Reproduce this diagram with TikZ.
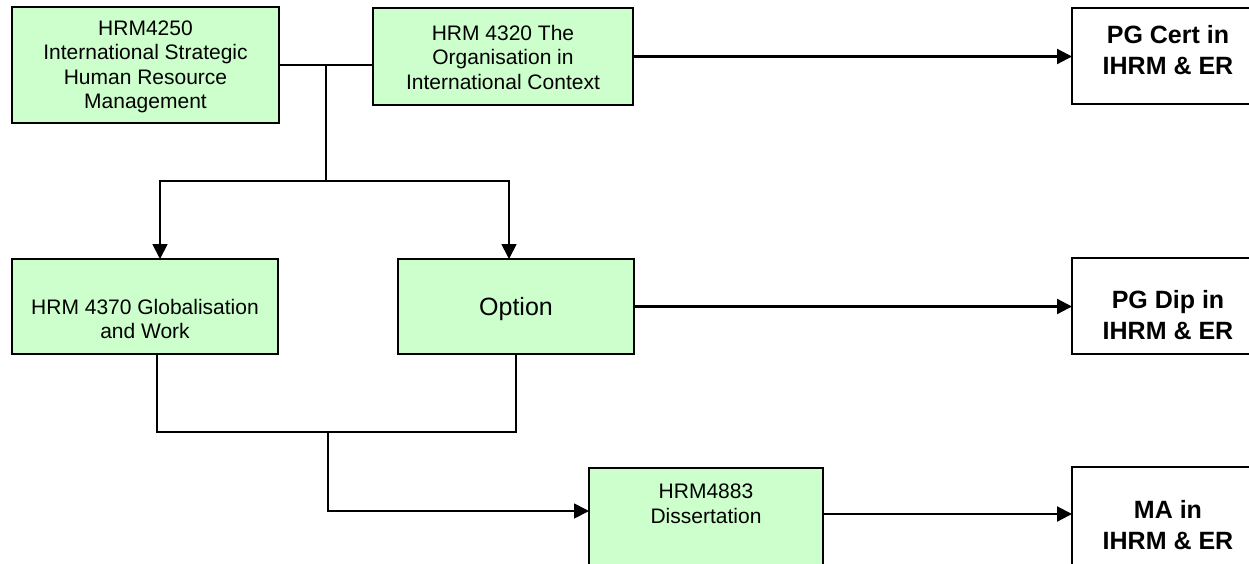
\documentclass[tikz,border=0pt]{standalone}
\usepackage{fontspec}
\setmainfont{Liberation Sans}
\usetikzlibrary{arrows.meta}
\definecolor{grn}{HTML}{CCFFCC}
\begin{document}
\begin{tikzpicture}[x=1pt,y=-1pt,
  box/.style={draw, line width=1.8pt, inner sep=0pt, outer sep=0pt, anchor=north west},
  gbox/.style={box, fill=grn},
  wbox/.style={box, fill=white},
  txt/.style={align=center, inner sep=0pt, font=\fontsize{21}{24.5}\selectfont},
  btxt/.style={align=center, inner sep=0pt, font=\fontsize{25}{30.5}\selectfont\bfseries},
  conn/.style={line width=1.8pt},
  arr/.style={line width=1.8pt, -{Triangle[length=15pt,width=15pt]}},
  arrb/.style={line width=2.2pt, -{Triangle[length=15pt,width=15pt]}},
]
\useasboundingbox (0,0) rectangle (1249,563);
\begin{scope}
\clip (0,0) rectangle (1249,563);
% boxes
\node[gbox, minimum width=267pt, minimum height=116pt] (A) at (12,7) {};
\node[gbox, minimum width=260pt, minimum height=97pt] (B) at (373,8) {};
\node[gbox, minimum width=266pt, minimum height=95pt] (C) at (12,259) {};
\node[gbox, minimum width=236pt, minimum height=95pt] (D) at (398,259) {};
\node[gbox, minimum width=234pt, minimum height=120pt] (E) at (589,468) {};
\node[wbox, minimum width=200pt, minimum height=96pt] (P1) at (1072,8) {};
\node[wbox, minimum width=200pt, minimum height=96pt] (P2) at (1072,258) {};
\node[wbox, minimum width=200pt, minimum height=120pt] (P3) at (1072,467) {};
% texts
\node[txt] (tA) at (145.5,67) {HRM4250\\International Strategic\\Human Resource\\Management};
\node[txt] (tB) at (503,57) {HRM 4320 The\\Organisation in\\International Context};
\node[txt] (tC) at (145,319) {HRM 4370 Globalisation\\and Work};
\node[txt, font=\fontsize{25}{30}\selectfont] (tD) at (516,309) {Option};
\node[txt] (tE) at (706,504) {HRM4883\\Dissertation};
\node[btxt] (t1) at (1168,50) {PG Cert in\\IHRM \& ER};
\node[btxt] (t2) at (1168,315) {PG Dip in\\IHRM \& ER};
\node[btxt] (t3) at (1168,525) {MA in\\IHRM \& ER};
% connectors
\coordinate (j1) at (326,65);
\coordinate (j2) at (326,181);
\coordinate (cl) at (160,181);
\coordinate (cr) at (509,181);
\coordinate (bl) at (157,432);
\coordinate (br) at (516,432);
\coordinate (bm) at (328,432);
\coordinate (bm2) at (328,511);
\coordinate (eo) at (823,514);
\draw[conn] (A.east) -- (A.east -| B.west);
\draw[conn] (j1) -- (j2);
\draw[arr] (j2) -- (cl) -- (cl |- C.north);
\draw[arr] (j2) -- (cr) -- (cr |- D.north);
\draw[conn] (bl |- C.south) -- (bl) -- (br) -- (br |- D.south);
\draw[arr] (bm) -- (bm2) -- (bm2 -| E.west);
\draw[arrb] (B.east) -- (B.east -| P1.west);
\draw[arrb] (D.east) -- (D.east -| P2.west);
\draw[arrb] (eo) -- (eo -| P3.west);
\end{scope}
\end{tikzpicture}
\end{document}
